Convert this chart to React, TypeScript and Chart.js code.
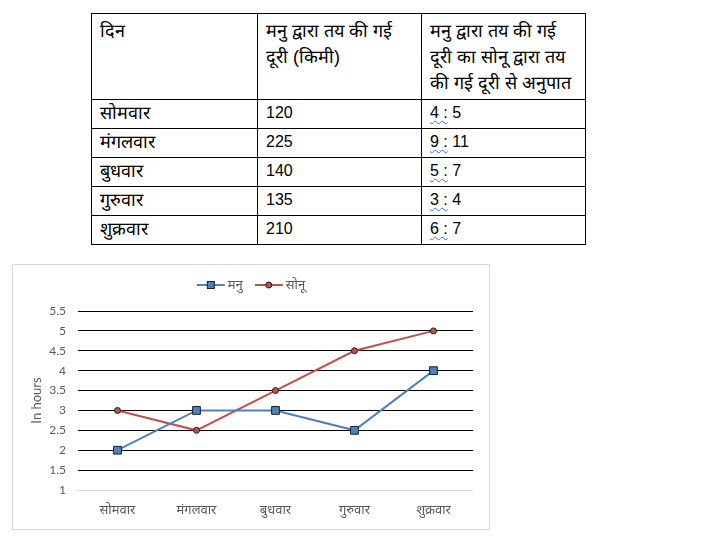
import React, { useEffect, useRef } from "react";
import { Chart, registerables } from "chart.js";

Chart.register(...registerables);

const categories = ["सोमवार", "मंगलवार", "बुधवार", "गुरुवार", "शुक्रवार"];
const manuHours = [2, 3, 3, 2.5, 4];
const sonuHours = [3, 2.5, 3.5, 4.5, 5];
const seriesNames = ["मनु", "सोनू"];
const tableHeader = ["दिन", "मनु द्वारा तय की गई दूरी (किमी)", "मनु द्वारा तय की गई दूरी का सोनू द्वारा तय की गई दूरी से अनुपात"];
const manuDistance = ["120", "225", "140", "135", "210"];
const ratioLeft = ["4", "9", "5", "3", "6"];
const ratioRight = ["5", "11", "7", "4", "7"];

const BLUE = "#4F81BD";
const RED = "#C0504D";
const MARKER_BORDER = "#1F1F1F";

const legendPlugin = {
  id: "excelLegend",
  afterDraw(chart: any) {
    const ctx = chart.ctx;
    const y = 20;
    ctx.save();
    ctx.font = "13px Lato, 'Noto Sans', sans-serif";
    const lineLen = 28;
    const gapText = 3;
    const gapItems = 12;
    const widths = seriesNames.map((n) => ctx.measureText(n).width);
    const total = widths.reduce((a, w) => a + lineLen + gapText + w, 0) + gapItems;
    let x = chart.width / 2 - total / 2;
    chart.data.datasets.forEach((ds: any, i: number) => {
      ctx.strokeStyle = ds.borderColor;
      ctx.lineWidth = 2;
      ctx.beginPath();
      ctx.moveTo(x, y);
      ctx.lineTo(x + lineLen, y);
      ctx.stroke();
      ctx.fillStyle = ds.pointBackgroundColor;
      ctx.strokeStyle = ds.pointBorderColor;
      ctx.lineWidth = 1;
      const cx = x + lineLen / 2;
      if (ds.pointStyle === "rect") {
        ctx.fillRect(cx - 3.5, y - 3.5, 7, 7);
        ctx.strokeRect(cx - 3.5, y - 3.5, 7, 7);
      } else {
        ctx.beginPath();
        ctx.arc(cx, y, 3, 0, Math.PI * 2);
        ctx.fill();
        ctx.stroke();
      }
      ctx.fillStyle = "#595959";
      ctx.textBaseline = "middle";
      ctx.textAlign = "left";
      ctx.fillText(seriesNames[i], x + lineLen + gapText, y);
      x += lineLen + gapText + widths[i] + gapItems;
    });
    ctx.restore();
  },
};

function LineChart() {
  const ref = useRef<HTMLCanvasElement>(null);
  useEffect(() => {
    if (!ref.current) return;
    const chart = new Chart(ref.current, {
      type: "line",
      data: {
        labels: categories,
        datasets: [
          {
            label: seriesNames[0],
            data: manuHours,
            borderColor: BLUE,
            backgroundColor: BLUE,
            borderWidth: 2,
            pointStyle: "rect",
            pointRadius: 5.5,
            pointBackgroundColor: BLUE,
            pointBorderColor: MARKER_BORDER,
            pointBorderWidth: 1,
            tension: 0,
          },
          {
            label: seriesNames[1],
            data: sonuHours,
            borderColor: RED,
            backgroundColor: RED,
            borderWidth: 2,
            pointStyle: "circle",
            pointRadius: 3,
            pointBackgroundColor: RED,
            pointBorderColor: MARKER_BORDER,
            pointBorderWidth: 1,
            tension: 0,
          },
        ],
      },
      options: {
        animation: false,
        responsive: false,
        layout: { padding: { top: 46, right: 16, bottom: 0, left: 0 } },
        plugins: { legend: { display: false }, tooltip: { enabled: false } },
        scales: {
          x: {
            offset: true,
            grid: { display: false, drawTicks: false },
            border: { display: false },
            ticks: {
              color: "#595959",
              font: { family: "Lato, 'Noto Sans', sans-serif", size: 13 },
              padding: 12,
              maxRotation: 0,
              autoSkip: false,
            },
            afterFit(scale: any) {
              scale.height = 39;
            },
          },
          y: {
            min: 1,
            max: 5.5,
            grid: {
              drawTicks: false,
              color: (c: any) => (c.tick && c.tick.value === 1 ? "#D9D9D9" : "#000000"),
              lineWidth: 1,
            },
            border: { display: false },
            ticks: {
              stepSize: 0.5,
              color: "#595959",
              font: { family: "Lato, sans-serif", size: 12 },
              padding: 12,
              callback: (v: any) => String(Number(v)),
            },
            title: {
              display: true,
              text: "In hours",
              color: "#595959",
              font: { family: "Lato, sans-serif", size: 13 },
              padding: { top: 16, bottom: 0 },
            },
            afterFit(scale: any) {
              scale.width = 65;
            },
          },
        },
      },
      plugins: [legendPlugin],
    });
    return () => chart.destroy();
  }, []);
  return <canvas ref={ref} width={476} height={264} style={{ display: "block", width: 476, height: 264 }} />;
}

const cellStyle: React.CSSProperties = {
  border: "1px solid #000",
  padding: "0 8px",
  verticalAlign: "top",
  textAlign: "left",
  fontFamily: "Arial, 'Liberation Sans', sans-serif",
  fontSize: 16,
  lineHeight: "26px",
  color: "#000",
  fontWeight: "normal",
  overflow: "hidden",
};

const devaCell: React.CSSProperties = { ...cellStyle, fontSize: 18 };
const squiggle: React.CSSProperties = {
  textDecorationLine: "underline",
  textDecorationStyle: "wavy",
  textDecorationColor: "#4472C4",
  textDecorationThickness: 1,
  textUnderlineOffset: 2,
};

export default function App() {
  return (
    <div style={{ position: "absolute", left: 0, top: 0, width: 711, height: 541, background: "#fff" }}>
      <table
        style={{
          position: "absolute",
          left: 91,
          top: 13,
          borderCollapse: "collapse",
          tableLayout: "fixed",
          width: 494,
        }}
      >
        <colgroup>
          <col style={{ width: 166 }} />
          <col style={{ width: 164 }} />
          <col style={{ width: 164 }} />
        </colgroup>
        <tbody>
          <tr style={{ height: 86 }}>
            {tableHeader.map((h, i) => (
              <td key={i} style={{ ...devaCell, paddingTop: 4 }}>
                {h}
              </td>
            ))}
          </tr>
          {categories.map((c, i) => (
            <tr key={c} style={{ height: 29 }}>
              <td style={devaCell}>{c}</td>
              <td style={cellStyle}>{manuDistance[i]}</td>
              <td style={cellStyle}>
                <span style={squiggle}>{ratioLeft[i] + " :"}</span>
                {" " + ratioRight[i]}
              </td>
            </tr>
          ))}
        </tbody>
      </table>
      <div
        style={{
          position: "absolute",
          left: 12,
          top: 264,
          width: 476,
          height: 264,
          border: "1px solid #D9D9D9",
        }}
      >
        <LineChart />
      </div>
    </div>
  );
}
